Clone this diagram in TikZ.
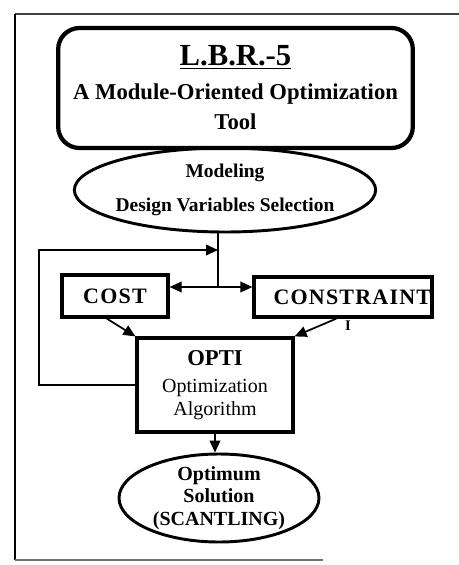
\documentclass[tikz,border=0pt]{standalone}
\usepackage{fontspec}
\setmainfont{Liberation Serif}
\usetikzlibrary{arrows.meta,shapes}
\tikzstyle{titlebox} = [draw=black, line width=3.2pt, rounded corners=16pt, align=center, minimum width=266pt, minimum height=90pt]
\tikzstyle{oval} = [ellipse, draw=black, line width=2.2pt, align=center, inner sep=0pt]
\tikzstyle{block} = [draw=black, line width=2.4pt, align=center, inner sep=0pt]
\tikzstyle{link} = [-{Triangle[length=9pt,width=8pt]}, line width=1.3pt, draw=black]
\newcommand{\spc}{\kern0.9pt}

\begin{document}
\begin{tikzpicture}[x=0.75pt,y=-0.75pt]
    \useasboundingbox (0,0) rectangle (459,565);
    % frame of the page
    \draw[line width=2.2pt, draw=black!75] (459,14) -- (15,14);
    \draw[line width=2.2pt] (15,14) -- (15,560);
    \draw[line width=2pt, draw=black!55] (15,560) -- (323,560);

    \node[titlebox, font=\bfseries\fontsize{17}{22.5}\selectfont] (tool) at (235.5,88)
      {{\fontsize{23}{23}\selectfont\underline{L.B.R.-5}}\\[3pt] A Module-Oriented Optimization\\ Tool};
    \node[oval, minimum width=226pt, minimum height=63pt, inner xsep=-14pt, inner ysep=-2pt, font=\bfseries\fontsize{14.6}{25}\selectfont] (model) at (225,190)
      {Modeling\\ Design Variables Selection};

    \node[block, minimum width=79.5pt, minimum height=31.5pt, font=\bfseries\fontsize{16.5}{18}\selectfont] (cost) at (115,296)
      {C\spc O\spc S\spc T};
    \node[block, minimum width=133.5pt, minimum height=30pt, font=\bfseries\fontsize{16.5}{18}\selectfont] (cons) at (343,297)
      {\hspace*{14pt}C\spc O\spc N\spc S\spc T\spc R\spc A\spc I\spc N\spc T};
    \node[font=\bfseries\fontsize{11}{12}\selectfont] (stray) at (348,326) {I};

    \node[block, minimum width=117pt, minimum height=70.5pt, font=\fontsize{15}{17.5}\selectfont] (opti) at (215,385)
      {{\bfseries\fontsize{17}{17}\selectfont OPTI}\\[2.5pt] Optimization\\ Algorithm};
    \node[oval, minimum width=150pt, minimum height=66pt, inner ysep=-8pt, font=\bfseries\fontsize{15}{17}\selectfont] (sol) at (219,498)
      {Optimum\\ Solution\\ (SCANTLING)};

    \coordinate (jct) at (218,287);
    \coordinate (fb) at (218,250);
    \coordinate (loop) at (39,250);

    \draw[line width=1.3pt] (model.south -| jct) -- (jct);
    \draw[link] (jct) -- (jct -| cost.east);
    \draw[link] (jct) -- (jct -| cons.west);
    \draw[link] (opti.west) -| (loop) -- (fb);
    \draw[link] (cost.250) -- (opti.north west);
    \draw[link] (cons.253) -- (opti.north east);
    \draw[link] (opti.south) -- (opti.south |- sol.north);
  \end{tikzpicture}
\end{document}
